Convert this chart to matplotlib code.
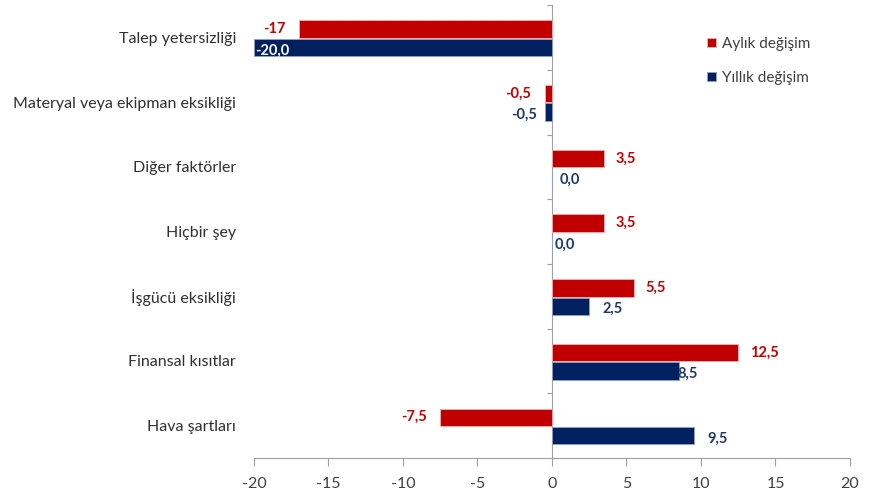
import matplotlib.pyplot as plt
import numpy as np

categories = ["Talep yetersizliği", "Materyal veya ekipman eksikliği", "Diğer faktörler",
              "Hiçbir şey", "İşgücü eksikliği", "Finansal kısıtlar", "Hava şartları"]
aylik = [-17, -0.5, 3.5, 3.5, 5.5, 12.5, -7.5]
yillik = [-20.0, -0.5, 0.0, 0.0, 2.5, 8.5, 9.5]
aylik_labels = ["-17", "-0,5", "3,5", "3,5", "5,5", "12,5", "-7,5"]
yillik_labels = ["-20,0", "-0,5", "0,0", "0,0", "2,5", "8,5", "9,5"]

red = "#C00000"
navy = "#002060"
plt.rcParams['font.family'] = ['Lato', 'DejaVu Sans']

fig = plt.figure(figsize=(8.74, 5.01), dpi=100)
ax = fig.add_axes([0.2906, 0.0858, 0.6819, 0.904])

y = np.arange(len(categories))
h = 0.27
ax.barh(y - 0.13, aylik, height=h, color=red, edgecolor="#f3b0b0", linewidth=0.6,
        label="Aylık değişim", zorder=3)
ax.barh(y + 0.155, yillik, height=h, color=navy, edgecolor="#8fa3c8", linewidth=0.6,
        label="Yıllık değişim", zorder=3)

# data labels
for i, (v, t) in enumerate(zip(aylik, aylik_labels)):
    if v < 0:
        ax.text(v - 0.9, y[i] - 0.13, t, ha="right", va="center", color=red,
                fontsize=10.5, fontweight="bold")
    else:
        ax.text(v + 0.8, y[i] - 0.13, t, ha="left", va="center", color=red,
                fontsize=10.5, fontweight="bold")
for i, (v, t) in enumerate(zip(yillik, yillik_labels)):
    yy = y[i] + 0.2
    if i == 0:
        ax.text(v + 0.1, yy, t, ha="left", va="center", color="white",
                fontsize=10.5, fontweight="bold", zorder=4)
    elif v < 0:
        ax.text(v - 0.5, yy, t, ha="right", va="center", color="#1F3864",
                fontsize=10.5, fontweight="bold")
    elif i == 2:
        ax.text(v + 0.5, yy, t, ha="left", va="center", color="#1F3864",
                fontsize=10.5, fontweight="bold")
    elif i == 5:
        ax.text(v - 0.1, yy, t, ha="left", va="center", color="#1F3864",
                fontsize=10.5, fontweight="bold")
    else:
        ax.text(v + 0.2 if v == 0 else v + 0.9, yy, t, ha="left", va="center",
                color="#1F3864", fontsize=10.5, fontweight="bold")

ax.set_xlim(-20, 20)
ax.set_ylim(len(categories) - 0.5, -0.5)
ax.set_xticks(np.arange(-20, 21, 5))
ax.set_xticklabels([str(v) for v in range(-20, 21, 5)], fontsize=11.5, color="#404040")
ax.set_yticks(y)
ax.set_yticklabels(categories, fontsize=11.5, color="#303030")
ax.tick_params(axis="y", length=0, pad=13)
ax.tick_params(axis="x", length=6, color="#a0a0a0", pad=8)

for s in ["top", "right", "left"]:
    ax.spines[s].set_visible(False)
ax.spines["bottom"].set_color("#a0a0a0")

# category axis at zero with boundary ticks
ax.axvline(0, color="#a0a0a0", linewidth=0.8, zorder=2)
bounds = np.arange(-0.5, len(categories), 1.0)
ax.hlines(bounds[:-1], -0.35, 0, color="#a0a0a0", linewidth=0.8)

leg = ax.legend(loc="upper left", bbox_to_anchor=(0.737, 0.96), frameon=False,
                fontsize=11, handlelength=0.6, handleheight=0.6,
                handletextpad=0.4, labelspacing=1.3)
for t in leg.get_texts():
    t.set_color("#404040")

fig.savefig("out.png", dpi=100)
